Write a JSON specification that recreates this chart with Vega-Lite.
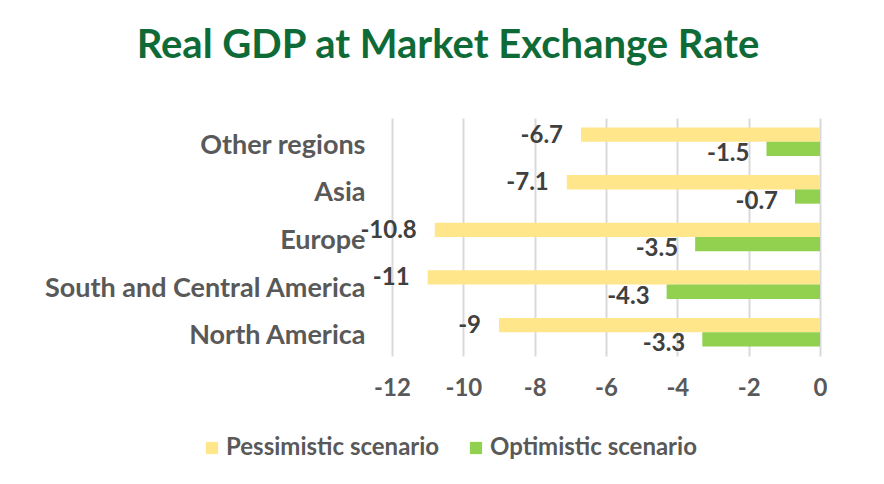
{
  "$schema": "https://vega.github.io/schema/vega-lite/v6.json",
  "width": 428,
  "height": 238,
  "autosize": {"type": "none"},
  "padding": {"left": 392, "top": 118, "right": 64, "bottom": 128},
  "background": "white",
  "title": {
    "text": "Real GDP at Market Exchange Rate",
    "font": "Lato",
    "fontSize": 40,
    "fontWeight": "bold",
    "color": "#0E6B37",
    "anchor": "middle",
    "dx": -158,
    "offset": 52
  },
  "data": {
    "values": [
      {"region": "Other regions", "scenario": "Pessimistic scenario", "value": -6.7},
      {"region": "Other regions", "scenario": "Optimistic scenario", "value": -1.5},
      {"region": "Asia", "scenario": "Pessimistic scenario", "value": -7.1},
      {"region": "Asia", "scenario": "Optimistic scenario", "value": -0.7},
      {"region": "Europe", "scenario": "Pessimistic scenario", "value": -10.8},
      {"region": "Europe", "scenario": "Optimistic scenario", "value": -3.5},
      {"region": "South and Central America", "scenario": "Pessimistic scenario", "value": -11},
      {"region": "South and Central America", "scenario": "Optimistic scenario", "value": -4.3},
      {"region": "North America", "scenario": "Pessimistic scenario", "value": -9},
      {"region": "North America", "scenario": "Optimistic scenario", "value": -3.3}
    ]
  },
  "encoding": {
    "y": {
      "field": "region",
      "type": "nominal",
      "sort": ["Other regions", "Asia", "Europe", "South and Central America", "North America"],
      "scale": {"paddingInner": 0.4, "paddingOuter": 0.2},
      "axis": {
        "title": null,
        "domain": false,
        "ticks": false,
        "labelPadding": 27,
        "labelFont": "Lato",
        "labelFontSize": 27,
        "labelFontWeight": "bold",
        "labelColor": "#595959",
        "labelLimit": 400,
        "labelOffset": 4
      }
    },
    "yOffset": {
      "field": "scenario",
      "type": "nominal",
      "sort": ["Pessimistic scenario", "Optimistic scenario"],
      "scale": {"paddingInner": 0, "paddingOuter": 0}
    },
    "x": {
      "field": "value",
      "type": "quantitative",
      "scale": {"domain": [-12, 0], "nice": false},
      "axis": {
        "title": null,
        "values": [-12, -10, -8, -6, -4, -2, 0],
        "labelExpr": "toString(datum.value)",
        "labelFlush": false,
        "domain": false,
        "ticks": false,
        "grid": true,
        "gridColor": "#d9d9d9",
        "gridWidth": 2,
        "labelPadding": 20,
        "labelFont": "Lato",
        "labelFontSize": 24,
        "labelFontWeight": "bold",
        "labelColor": "#595959"
      }
    }
  },
  "layer": [
    {
      "mark": {"type": "bar"},
      "encoding": {
        "color": {
          "field": "scenario",
          "type": "nominal",
          "sort": ["Pessimistic scenario", "Optimistic scenario"],
          "scale": {"domain": ["Pessimistic scenario", "Optimistic scenario"], "range": ["#FFE68A", "#92D050"]},
          "legend": {
            "title": null,
            "orient": "none",
            "legendX": -192,
            "legendY": 318,
            "direction": "horizontal",
            "symbolType": "square",
            "symbolSize": 150,
            "symbolStrokeWidth": 0,
            "labelFont": "Lato",
            "labelFontSize": 24,
            "labelFontWeight": "bold",
            "labelColor": "#595959",
            "labelOffset": 2,
            "columnPadding": 24,
            "labelLimit": 300
          }
        }
      }
    },
    {
      "transform": [{"filter": "datum.scenario === 'Pessimistic scenario'"}],
      "mark": {"type": "text", "align": "right", "baseline": "middle", "dx": -18, "dy": 1, "font": "Lato", "fontSize": 24, "fontWeight": "bold", "color": "#404040"},
      "encoding": {"text": {"field": "value", "type": "nominal"}}
    },
    {
      "transform": [{"filter": "datum.scenario === 'Optimistic scenario'"}],
      "mark": {"type": "text", "align": "right", "baseline": "middle", "dx": -17, "dy": 5, "font": "Lato", "fontSize": 24, "fontWeight": "bold", "color": "#404040"},
      "encoding": {"text": {"field": "value", "type": "nominal"}}
    }
  ],
  "config": {"view": {"stroke": null}}
}
